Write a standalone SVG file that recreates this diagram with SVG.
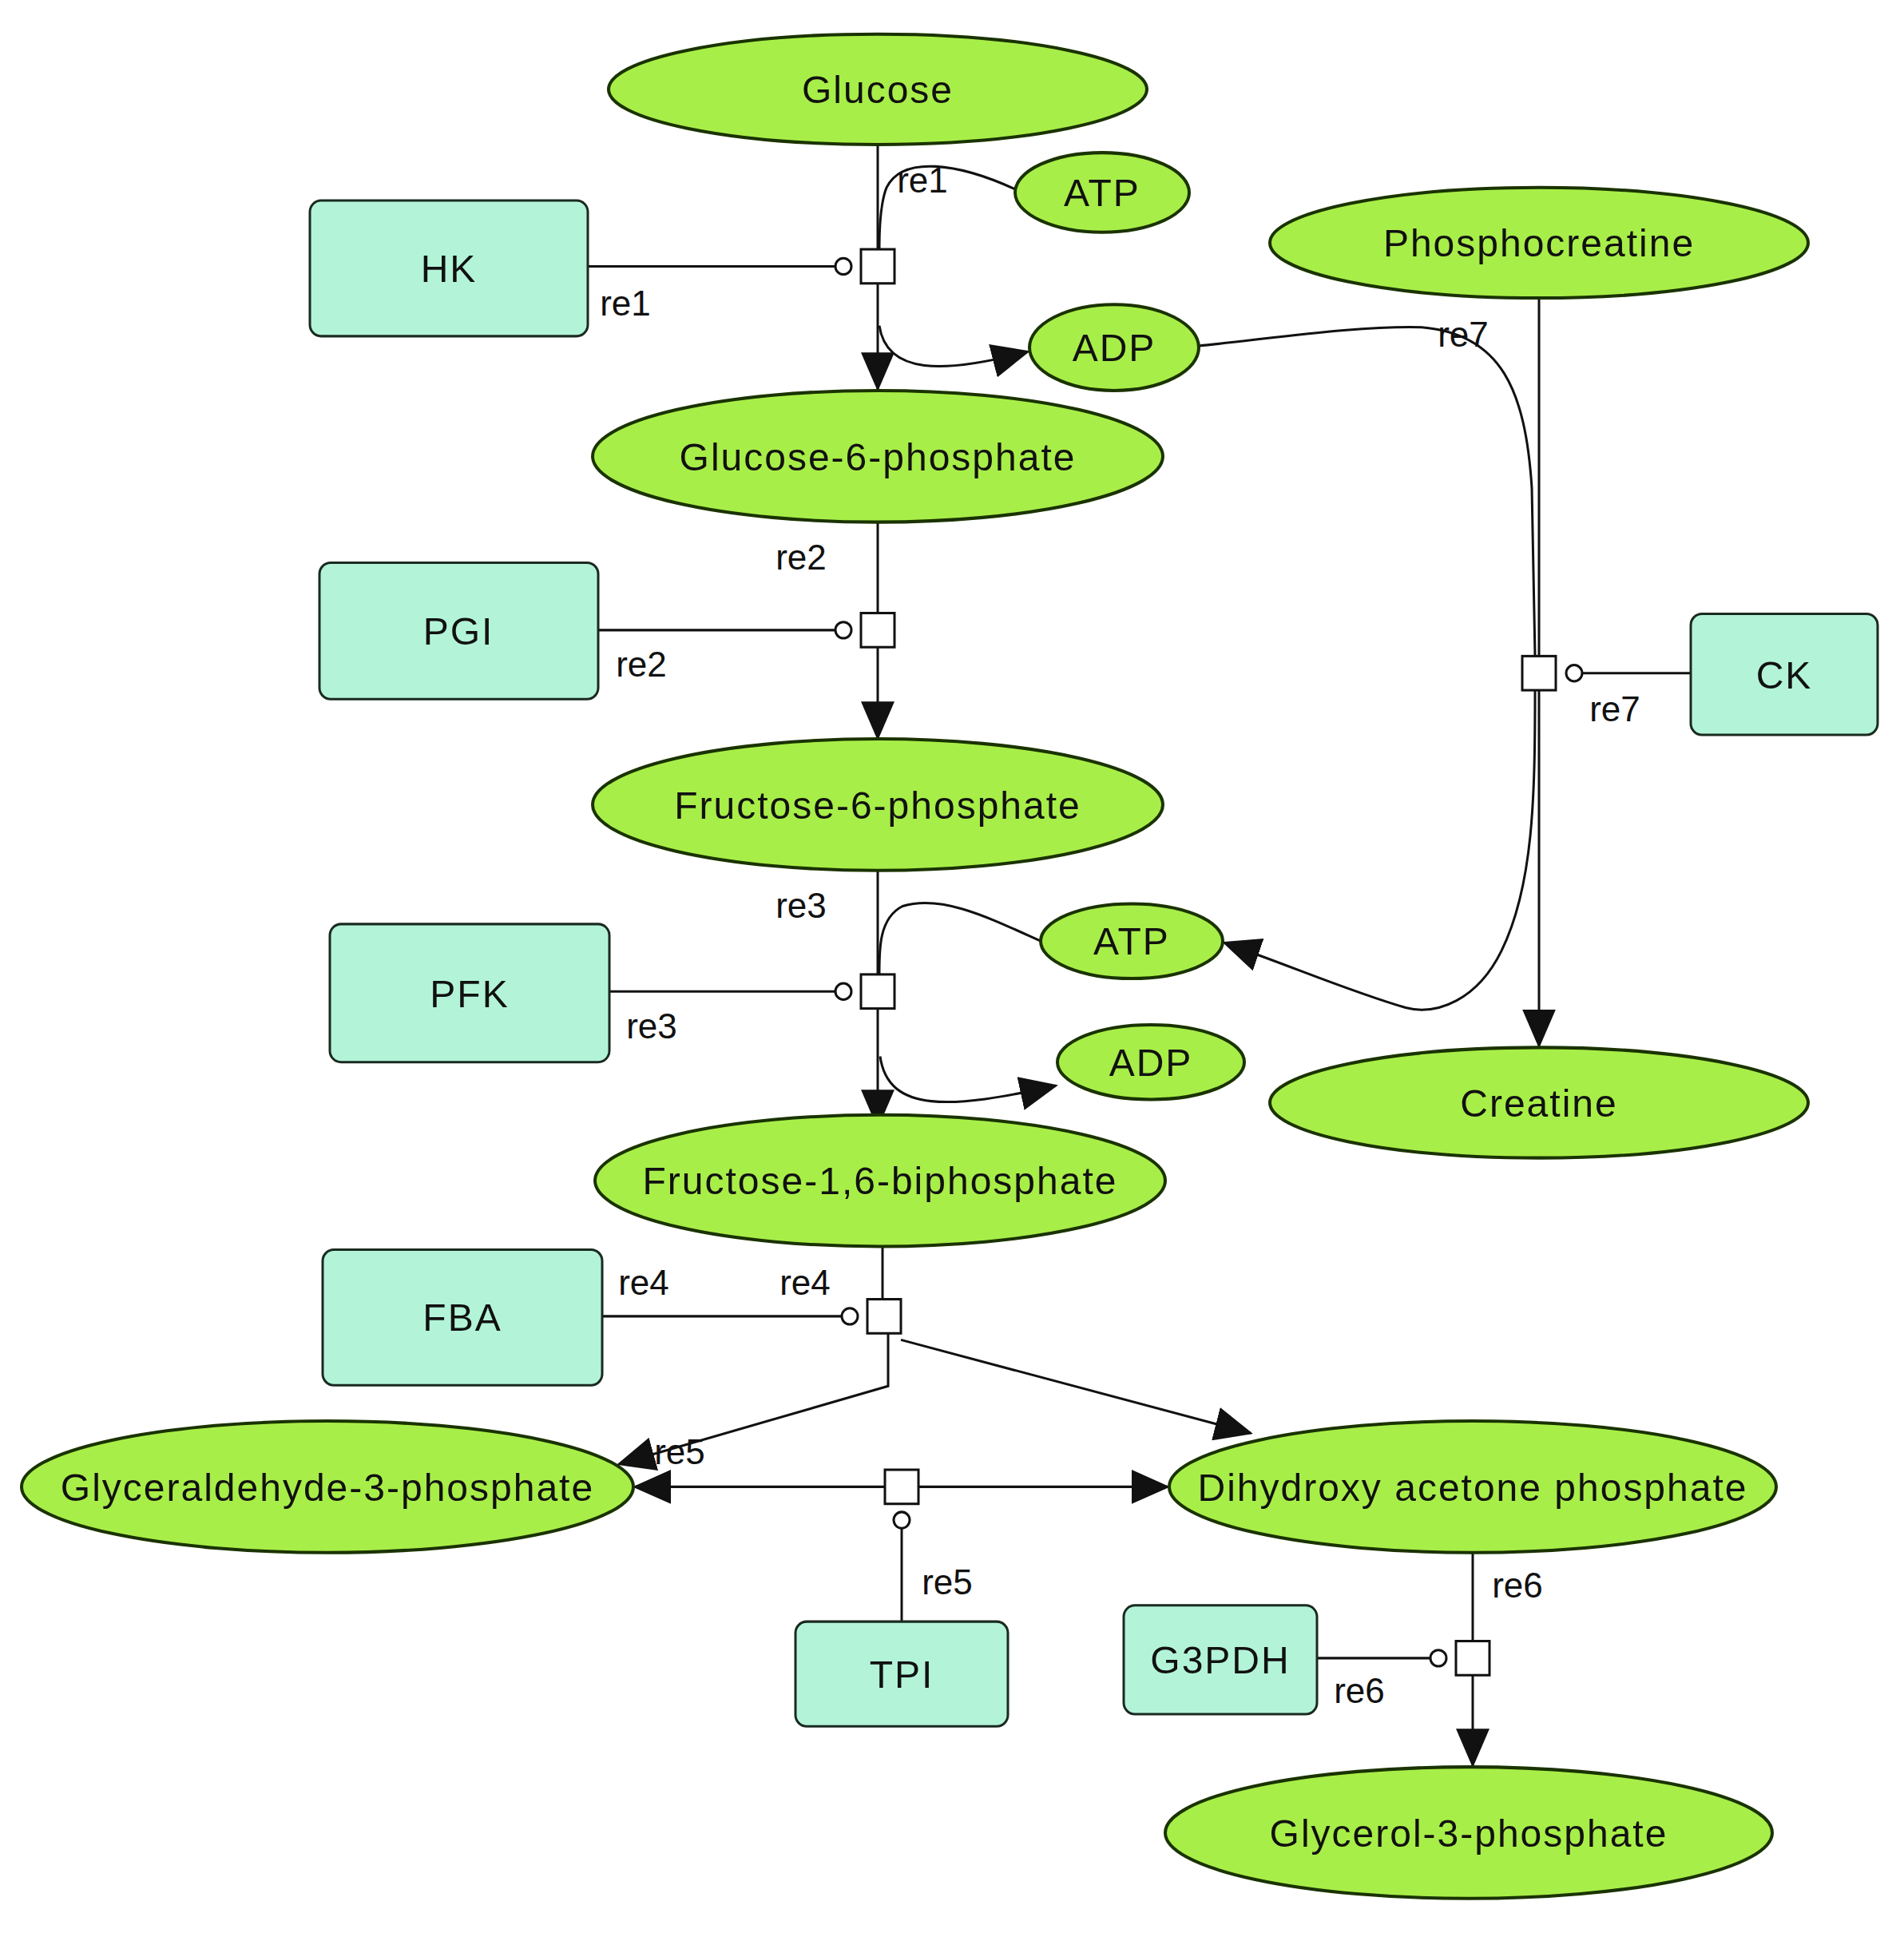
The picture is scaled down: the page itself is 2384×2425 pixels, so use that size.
<svg xmlns="http://www.w3.org/2000/svg" width="2384" height="2425" viewBox="0 0 2384 2425">
<style>
.sp{fill:#a8ee48;stroke:#1a3300;stroke-width:4}
.en{fill:#b3f4d8;stroke:#1a2a20;stroke-width:3}
.t{font-family:"Liberation Sans",Arial,sans-serif;font-size:48px;fill:#111;text-anchor:middle;letter-spacing:2px}
.l{font-family:"Liberation Sans",Arial,sans-serif;font-size:44px;fill:#111;text-anchor:middle}
.c{fill:none;stroke:#111;stroke-width:3}
.a{fill:none;stroke:#111;stroke-width:3;marker-end:url(#ar)}
.sq{fill:#fff;stroke:#111;stroke-width:3}
.ci{fill:#fff;stroke:#111;stroke-width:3}
</style>
<defs>
<marker id="ar" markerWidth="16" markerHeight="14" refX="15" refY="7" orient="auto" markerUnits="strokeWidth"><path d="M0,0 L16,7 L0,14 Z" fill="#111"/></marker>
</defs>
<rect width="2384" height="2425" fill="#fff"/>
<g transform="matrix(1,0,0,1.0166,0,1)">
<g id="connectors">
<path class="c" d="M1099,177 V306"/>
<path class="c" d="M1271,232 C1200,200 1130,190 1110,230 C1102,250 1101,280 1101,306"/>
<path class="a" d="M1099,348 V478"/>
<path class="a" d="M1101,400 C1110,460 1180,460 1287,432"/>
<path class="c" d="M736,327 H1046"/>
<path class="c" d="M1099,642 V754"/>
<path class="a" d="M1099,796 V908"/>
<path class="c" d="M749,775 H1046"/>
<path class="c" d="M1927,366 V807"/>
<path class="a" d="M1927,849 V1287"/>
<path class="c" d="M1501,425 C1600,415 1700,400 1780,402 C1880,410 1910,480 1918,600 L1922,807"/>
<path class="a" d="M1922,849 C1922,980 1920,1090 1880,1170 C1850,1230 1800,1250 1760,1240 C1690,1220 1620,1190 1533,1160"/>
<path class="c" d="M2117,828 H1981"/>
<path class="c" d="M1099,1071 V1199"/>
<path class="c" d="M1303,1158 C1240,1130 1180,1100 1130,1115 C1100,1130 1101,1170 1101,1199"/>
<path class="a" d="M1099,1241 V1386"/>
<path class="a" d="M1102,1300 C1112,1370 1190,1365 1322,1336"/>
<path class="c" d="M763,1220 H1046"/>
<path class="c" d="M1105,1534 V1599"/>
<path class="a" d="M1112,1641 V1706 L775,1802"/>
<path class="a" d="M1128,1649 L1566,1764"/>
<path class="c" d="M754,1620 H1054"/>
<path class="a" d="M1108,1830 H795"/>
<path class="a" d="M1150,1830 H1462"/>
<path class="c" d="M1129,1996 V1881"/>
<path class="c" d="M1844,1911 V2020"/>
<path class="a" d="M1844,2062 V2173"/>
<path class="c" d="M1649,2041 H1791"/>
</g>
<g id="reactions">
<rect class="sq" x="1078" y="306" width="42" height="42"/><circle class="ci" cx="1056" cy="327" r="10"/>
<rect class="sq" x="1078" y="754" width="42" height="42"/><circle class="ci" cx="1056" cy="775" r="10"/>
<rect class="sq" x="1078" y="1199" width="42" height="42"/><circle class="ci" cx="1056" cy="1220" r="10"/>
<rect class="sq" x="1086" y="1599" width="42" height="42"/><circle class="ci" cx="1064" cy="1620" r="10"/>
<rect class="sq" x="1108" y="1809" width="42" height="42"/><circle class="ci" cx="1129" cy="1871" r="10"/>
<rect class="sq" x="1823" y="2020" width="42" height="42"/><circle class="ci" cx="1801" cy="2041" r="10"/>
<rect class="sq" x="1906" y="807" width="42" height="42"/><circle class="ci" cx="1971" cy="828" r="10"/>
</g>
<g id="labels">
<text class="l" x="1155" y="236">re1</text>
<text class="l" x="783" y="388">re1</text>
<text class="l" x="1003" y="700">re2</text>
<text class="l" x="803" y="832">re2</text>
<text class="l" x="1003" y="1129">re3</text>
<text class="l" x="816" y="1278">re3</text>
<text class="l" x="806" y="1594">re4</text>
<text class="l" x="1008" y="1594">re4</text>
<text class="l" x="851" y="1802">re5</text>
<text class="l" x="1186" y="1962">re5</text>
<text class="l" x="1900" y="1966">re6</text>
<text class="l" x="1702" y="2096">re6</text>
<text class="l" x="1832" y="426">re7</text>
<text class="l" x="2022" y="887">re7</text>
</g>
<g id="Glucose"><ellipse class="sp" cx="1099" cy="109" rx="337" ry="68"/><text class="t" x="1099" y="126">Glucose</text></g>
<g id="ATP1"><ellipse class="sp" cx="1380" cy="236" rx="109" ry="49"/><text class="t" x="1380" y="253">ATP</text></g>
<g id="HK"><rect class="en" x="388" y="246" width="348" height="167" rx="14"/><text class="t" x="562" y="346">HK</text></g>
<g id="ADP1"><ellipse class="sp" cx="1395" cy="427" rx="106" ry="53"/><text class="t" x="1395" y="444">ADP</text></g>
<g id="Phosphocreatine"><ellipse class="sp" cx="1927" cy="298" rx="337" ry="68"/><text class="t" x="1927" y="315">Phosphocreatine</text></g>
<g id="G6P"><ellipse class="sp" cx="1099" cy="561" rx="357" ry="81"/><text class="t" x="1099" y="578">Glucose-6-phosphate</text></g>
<g id="PGI"><rect class="en" x="400" y="692" width="349" height="168" rx="14"/><text class="t" x="574" y="793">PGI</text></g>
<g id="F6P"><ellipse class="sp" cx="1099" cy="990" rx="357" ry="81"/><text class="t" x="1099" y="1007">Fructose-6-phosphate</text></g>
<g id="CK"><rect class="en" x="2117" y="755" width="234" height="149" rx="14"/><text class="t" x="2234" y="847">CK</text></g>
<g id="PFK"><rect class="en" x="413" y="1137" width="350" height="170" rx="14"/><text class="t" x="588" y="1239">PFK</text></g>
<g id="ATP2"><ellipse class="sp" cx="1417" cy="1158" rx="114" ry="46"/><text class="t" x="1417" y="1175">ATP</text></g>
<g id="ADP2"><ellipse class="sp" cx="1441" cy="1307" rx="117" ry="46"/><text class="t" x="1441" y="1324">ADP</text></g>
<g id="Creatine"><ellipse class="sp" cx="1927" cy="1357" rx="337" ry="68"/><text class="t" x="1927" y="1374">Creatine</text></g>
<g id="F16BP"><ellipse class="sp" cx="1102" cy="1453" rx="357" ry="81"/><text class="t" x="1102" y="1470">Fructose-1,6-biphosphate</text></g>
<g id="FBA"><rect class="en" x="404" y="1538" width="350" height="167" rx="14"/><text class="t" x="579" y="1638">FBA</text></g>
<g id="GA3P"><ellipse class="sp" cx="410" cy="1830" rx="383" ry="81"/><text class="t" x="410" y="1847">Glyceraldehyde-3-phosphate</text></g>
<g id="DHAP"><ellipse class="sp" cx="1844" cy="1830" rx="380" ry="81"/><text class="t" x="1844" y="1847">Dihydroxy acetone phosphate</text></g>
<g id="TPI"><rect class="en" x="996" y="1996" width="266" height="129" rx="14"/><text class="t" x="1129" y="2078">TPI</text></g>
<g id="G3PDH"><rect class="en" x="1407" y="1976" width="242" height="134" rx="14"/><text class="t" x="1528" y="2060">G3PDH</text></g>
<g id="G3P"><ellipse class="sp" cx="1839" cy="2256" rx="380" ry="81"/><text class="t" x="1839" y="2273">Glycerol-3-phosphate</text></g>
</g>
</svg>
